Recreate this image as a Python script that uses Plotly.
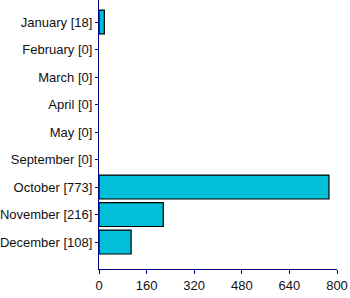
import plotly.graph_objects as go

months = ["January", "February", "March", "April", "May", "September", "October", "November", "December"]
counts = [18, 0, 0, 0, 0, 0, 773, 216, 108]
labels = [f"{m} [{c}]" for m, c in zip(months, counts)]
x_ticks = [0, 160, 320, 480, 640, 800]
outline = [1.2 if c > 0 else 0 for c in counts]

fig = go.Figure(go.Bar(
    x=counts, y=labels, orientation="h",
    marker=dict(color="#00BFD6", line=dict(color="#000000", width=outline)),
    width=0.87,
))
fig.update_layout(
    width=350, height=298,
    margin=dict(l=99, r=13, t=0, b=29),
    plot_bgcolor="white", paper_bgcolor="white",
    showlegend=False,
    font=dict(family="Liberation Sans, Arial, sans-serif", size=13, color="#111111"),
)
fig.update_xaxes(
    range=[0, 800], tickvals=x_ticks, showgrid=False, zeroline=False,
    showline=True, linecolor="#000080", linewidth=1,
    ticks="outside", ticklen=4, tickcolor="#000080", automargin=False,
)
fig.update_yaxes(
    type="category", categoryorder="array", categoryarray=labels,
    range=[8.98, -0.8], showgrid=False, zeroline=False,
    showline=True, linecolor="#000080", linewidth=1,
    ticks="outside", ticklen=3, tickcolor="#000080", ticklabelstandoff=0,
    automargin=False,
)
fig.write_html("out.html")
